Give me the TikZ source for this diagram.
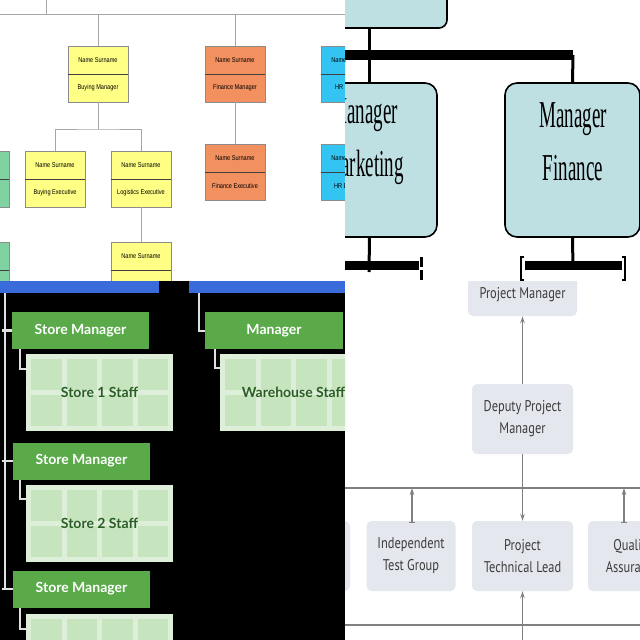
\documentclass[tikz,border=0pt]{standalone}
\usepackage{fontspec}
\usetikzlibrary{arrows.meta}
\newfontfamily\tlfont[FakeStretch=0.8]{Liberation Sans}
\newfontfamily\trfont[FakeStretch=0.5]{Liberation Serif}
\newfontfamily\grfont{Lato}
\newfontfamily\brfont[FakeStretch=0.8]{PT Sans}
\definecolor{yel}{HTML}{FFFF85}
\definecolor{org}{HTML}{F2905F}
\definecolor{cya}{HTML}{33C4F2}
\definecolor{grn}{HTML}{80D3A0}
\definecolor{trfill}{HTML}{BEE0E3}
\definecolor{barblue}{HTML}{3A6BDB}
\definecolor{smgreen}{HTML}{5AAA4A}
\definecolor{gridbg}{HTML}{DDEFD8}
\definecolor{cellfill}{HTML}{C6E4BE}
\definecolor{gridtext}{HTML}{2B5E26}
\definecolor{brfill}{HTML}{E5E7EE}
\definecolor{brtext}{HTML}{3C3C3C}
\newcommand\tlbox[6]{%
  \node[tlb, fill=#4] (#1) at (#2,#3) {};
  \draw[tldiv] (#1.west) -- (#1.east);
  \node[tltxt] at (#2,#3-14) {#5};
  \node[tltxt] at (#2,#3+14) {#6};
}
\newcommand\staffgrid[4]{%
  \node[gridbox] (#1) at (#2,#3) {};
  \foreach \i in {0,...,3}{\foreach \j in {0,1}{%
    \fill[cellfill] (#2-73.5+5+\i*35.5, #3-38.5+5+\j*36) rectangle ++(30.5,31);}}
  \node[gridtxt] at (#2,#3) {#4};
}
\begin{document}
\begin{tikzpicture}[x=1pt,y=-1pt,
  tlb/.style={draw=black!45, line width=0.8pt, minimum width=60pt, minimum height=56pt, inner sep=0pt},
  tldiv/.style={draw=black!75, line width=0.8pt},
  tltxt/.style={font=\tlfont\fontsize{7}{8}\selectfont, inner sep=0pt, text=black},
  tlline/.style={draw=black!35, line width=0.8pt},
  trbox/.style={draw=black, line width=1.6pt, fill=trfill, rounded corners=12pt, minimum width=135pt, minimum height=154pt, inner sep=0pt},
  trtxt/.style={font=\trfont\fontsize{38}{53}\selectfont, align=center, inner sep=0pt},
  trthick/.style={draw=black, line width=10pt},
  trline/.style={draw=black, line width=3pt},
  smbox/.style={fill=smgreen, minimum width=137pt, minimum height=37pt, inner sep=0pt, font=\grfont\bfseries\fontsize{14}{16}\selectfont, text=white},
  gridbox/.style={fill=gridbg, minimum width=147pt, minimum height=77pt, inner sep=0pt},
  gridtxt/.style={font=\grfont\bfseries\fontsize{14}{16}\selectfont, text=gridtext, inner sep=0pt},
  blline/.style={draw=black!12, line width=2.5pt},
  brbox/.style={fill=brfill, rounded corners=5pt, minimum width=101pt, minimum height=70pt, inner sep=0pt, align=center, font=\brfont\fontsize{15.5}{22}\selectfont, text=brtext},
  brline/.style={draw=black!50, line width=1.2pt},
  brarrow/.style={brline, -{Stealth[length=7pt,width=4.5pt]}}
]
\useasboundingbox (0,0) rectangle (640,640);
\fill[white] (0,0) rectangle (640,640);
% ---------------- top-left ----------------
\begin{scope}
\clip (0,0) rectangle (345,281);
\coordinate (tlL) at (0,14);
\coordinate (tlR) at (345,14);
\coordinate (tlT) at (46,0);
\draw[tlline] (tlL) -- (tlR);
\draw[tlline] (tlT) -- (tlT |- tlL);
\tlbox{bm}{98}{74}{yel}{Name Surname}{Buying Manager}
\tlbox{fm}{235}{74}{org}{Name Surname}{Finance Manager}
\tlbox{hr1}{351}{74}{cya}{Name Surname}{HR Manager}
\tlbox{be}{55}{179}{yel}{Name Surname}{Buying Executive}
\tlbox{le}{141}{179}{yel}{Name Surname}{Logistics Executive}
\tlbox{fe}{235}{172}{org}{Name Surname}{Finance Executive}
\tlbox{hr2}{351}{172}{cya}{Name Surname}{HR Executive}
\tlbox{g1}{-21}{179}{grn}{}{}
\tlbox{g2}{-21}{270}{grn}{}{}
\tlbox{lx}{141}{270}{yel}{Name Surname}{}
\draw[tlline] (bm.north) -- (bm.north |- tlL);
\draw[tlline] (fm.north) -- (fm.north |- tlL);
\coordinate (bj) at (98,129);
\draw[tlline] (bm.south) -- (bj);
\draw[tlline] (be.north) |- (bj) -| (le.north);
\draw[tlline] (fm.south) -- (fe.north);
\draw[tlline] (le.south) -- (lx.north);
\end{scope}
% ---------------- top-right ----------------
\begin{scope}
\clip (345,0) rectangle (640,281);
\node[trbox, minimum width=207pt, minimum height=60pt, rounded corners=8pt] (tb) at (343.5,-2) {};
\node[trbox] (mk) at (369.5,160) {};
\node[trbox] (fi) at (572.5,160) {};
\node[trtxt] at (364,142) {Manager\\Marketing};
\node[trtxt] at (573,142) {Manager\\Finance};
\coordinate (bar1L) at (330,55);
\coordinate (bar1R) at (573,55);
\draw[trline] (tb.south -| mk.north) -- (mk.north);
\draw[trthick] (bar1L) -- (bar1R);
\draw[trline] (bar1R) -- (fi.north);
\coordinate (mkb) at (369,272);
\draw[trline] (mk.south) -- (mkb);
\coordinate (bar2L) at (330,265);
\coordinate (bar2R) at (419,265);
\draw[draw=black, line width=9pt] (bar2L) -- (bar2R);
\draw[draw=black, line width=3pt, dash pattern=on 10pt off 3pt] (421,257) -- (421,281);
\coordinate (fib) at (573,268);
\draw[trline] (fi.south) -- (fib);
\coordinate (bar3L) at (525,265);
\coordinate (bar3R) at (622,265);
\draw[draw=black, line width=9pt] (bar3L) -- (bar3R);
\draw[draw=black, line width=2.5pt] (524,257) -- (521,257) -- (521,280) -- (524,280);
\draw[draw=black, line width=2.5pt] (622,257) -- (625,257) -- (625,280) -- (622,280);
\end{scope}
% ---------------- bottom-left ----------------
\begin{scope}
\clip (0,281) rectangle (345,640);
\fill[black] (0,281) rectangle (345,640);
\fill[barblue] (0,281) rectangle (159,293);
\fill[barblue] (189,281) rectangle (345,293);
\node[smbox] (sm1) at (80.5,330.5) {Store Manager};
\node[smbox] (sm2) at (81.5,461) {Store Manager};
\node[smbox] (sm3) at (81.5,589) {Store Manager};
\node[smbox, minimum width=138pt] (mgr) at (274,330.5) {Manager};
\staffgrid{s1}{99.5}{392.5}{Store 1 Staff}
\staffgrid{s2}{99.5}{523}{Store 2 Staff}
\staffgrid{s3}{99.5}{652.5}{}
\staffgrid{ws}{293.5}{392.5}{Warehouse Staff}
\coordinate (vtop) at (5,293);
\coordinate (vbot) at (5,589);
\draw[blline] (vtop) -- (vbot);
\draw[blline] (2,330.5) -- (sm1.west);
\draw[blline] (2,461) -- (sm2.west);
\draw[blline] (2,589) -- (sm3.west);
\draw[blline, line width=2pt] ([xshift=8pt]sm1.south west) |- ([yshift=-15pt]s1.north west);
\draw[blline, line width=2pt] ([xshift=7pt]sm2.south west) |- ([yshift=-15pt]s2.north west);
\draw[blline, line width=2pt] ([xshift=7pt]sm3.south west) |- ([yshift=-15pt]s3.north west);
\coordinate (mtop) at (199,293);
\draw[blline, line width=2pt] (mtop) |- (mgr.west);
\draw[blline, line width=2pt] ([xshift=10pt]mgr.south west) |- ([yshift=-14pt]ws.north west);
\end{scope}
% ---------------- bottom-right ----------------
\begin{scope}
\clip (345,281) rectangle (640,640);
\node[brbox, minimum width=109pt, minimum height=42pt] (pm) at (522.5,295) {Project Manager};
\node[brbox] (dpm) at (522.5,419) {Deputy Project\\Manager};
\node[brbox, minimum width=89pt] (lb) at (305.5,556) {};
\node[brbox, minimum width=89pt] (itg) at (411,556) {Independent\\Test Group};
\node[brbox] (ptl) at (522.5,556) {Project\\Technical Lead};
\node[brbox, minimum width=89pt] (qa) at (632.5,556) {Quality\\Assurance};
\coordinate (h1L) at (345,488);
\coordinate (h1R) at (640,488);
\coordinate (h2L) at (345,625);
\coordinate (h2R) at (640,625);
\coordinate (bot) at (522.5,640);
\draw[brline] (h1L) -- (h1R);
\draw[brline] (h2L) -- (h2R);
\draw[brarrow] (dpm.north) -- (pm.south);
\draw[brarrow] (dpm.south) -- (ptl.north);
\draw[brarrow] (bot) -- (ptl.south);
\draw[brline, {Bar[width=6pt]}-{Stealth[length=7pt,width=4.5pt]}] ([xshift=1pt,yshift=-2pt]itg.north) -- ([xshift=1pt]itg.north |- h1L);
\draw[brline, {Bar[width=6pt]}-{Stealth[length=7pt,width=4.5pt]}] ([xshift=-8.5pt,yshift=-2pt]qa.north) -- ([xshift=-8.5pt]qa.north |- h1L);
\end{scope}
\end{tikzpicture}
\end{document}
